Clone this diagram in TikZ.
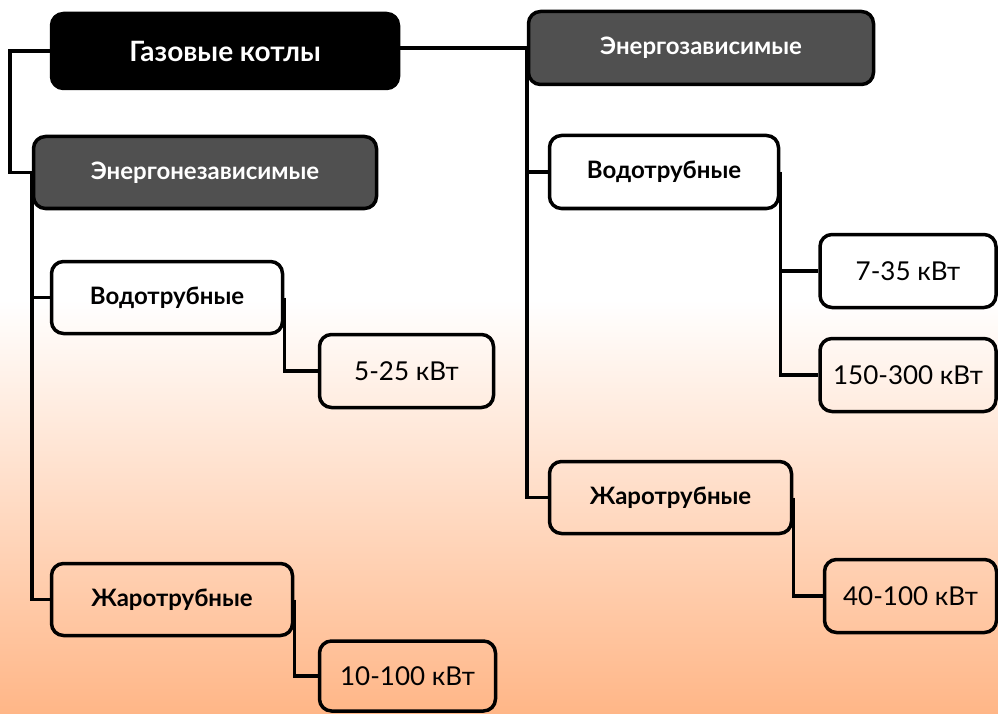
\documentclass[tikz,border=0pt]{standalone}
\usepackage{fontspec}
\setmainfont{Lato}
\definecolor{boxgray}{RGB}{80,80,80}
\definecolor{peach}{RGB}{255,182,135}
\tikzset{
  headbox/.style = {draw=black, line width=3.5pt, rounded corners=12pt,
                    fill=#1, text=white, inner sep=0pt},
  typebox/.style = {draw=black, line width=3.5pt, rounded corners=12pt,
                    inner sep=0pt, font=\bfseries\fontsize{24}{28}\selectfont},
  powbox/.style  = {draw=black, line width=3.5pt, rounded corners=12pt,
                    inner sep=0pt, font=\fontsize{26}{30}\selectfont},
  link/.style    = {line width=3.5pt},
}
\begin{document}
\begin{tikzpicture}[x=1pt, y=-1pt]
% background: white on top, peach towards the bottom
\fill[white] (0,0) rectangle (998,714);
\shade[top color=white, bottom color=peach] (0,300) rectangle (998,714);
\useasboundingbox (0,0) rectangle (998,714);

% top level
\node[headbox=black, minimum width=347pt, minimum height=75pt,
      font=\bfseries\fontsize{28}{32}\selectfont] (gk) at (225,51) {Газовые котлы};
\node[headbox=boxgray, minimum width=343pt, minimum height=72pt,
      font=\bfseries\fontsize{24}{28}\selectfont] (enz) at (205,172.5) {Энергонезависимые};
\node[headbox=boxgray, minimum width=345pt, minimum height=73pt,
      font=\bfseries\fontsize{24}{28}\selectfont] (ez) at (701,48) {Энергозависимые};

% left branch
\node[typebox, minimum width=231pt, minimum height=72pt] (vL) at (167,297.5) {Водотрубные};
\node[powbox, minimum width=174pt, minimum height=73pt] (kw1) at (406.5,371) {5-25 кВт};
\node[typebox, minimum width=241pt, minimum height=72pt] (zL) at (172,599.5) {Жаротрубные};
\node[powbox, minimum width=176pt, minimum height=70pt] (kw2) at (407.5,676) {10-100 кВт};

% right branch
\node[typebox, minimum width=229pt, minimum height=73pt] (vR) at (664,172) {Водотрубные};
\node[powbox, minimum width=176pt, minimum height=73pt] (kw3) at (908,271) {7-35 кВт};
\node[powbox, minimum width=176pt, minimum height=73pt] (kw4) at (908,375) {150-300 кВт};
\node[typebox, minimum width=242pt, minimum height=72pt] (zR) at (670.5,497.5) {Жаротрубные};
\node[powbox, minimum width=172pt, minimum height=73pt] (kw5) at (910.5,596) {40-100 кВт};

% connectors
\draw[link] (gk.west) -- ++(-40,0) |- (enz.west);
\draw[link] (gk.east |- ez.west) -- (ez.west);
\draw[link] (enz.west) |- (vL.west);
\draw[link] (enz.west) |- (zL.west);
\draw[link] (vL.east) |- (kw1.west);
\draw[link] (zL.east) |- (kw2.west);
\draw[link] (ez.west) |- (vR.west);
\draw[link] (ez.west) |- (zR.west);
\draw[link] (vR.east) |- (kw3.west);
\draw[link] (vR.east) |- (kw4.west);
\draw[link] (zR.east) |- (kw5.west);
\end{tikzpicture}
\end{document}
